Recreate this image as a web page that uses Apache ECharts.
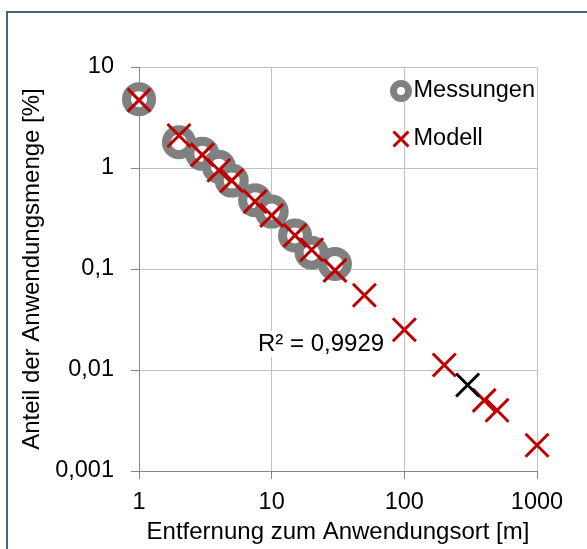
<!DOCTYPE html>
<html>
<head>
<meta charset="utf-8">
<script src="https://cdn.jsdelivr.net/npm/echarts@6/dist/echarts.min.js"></script>
<style>
html,body{margin:0;padding:0;background:#fff;}
#c{width:587px;height:549px;}
</style>
</head>
<body>
<div id="c"></div>
<script>
// ---- data ----
const messX = [1, 2, 3, 4, 5, 7.5, 10, 15, 20, 30];
const messY = [4.8, 1.8, 1.38, 1.03, 0.75, 0.48, 0.37, 0.215, 0.145, 0.112];
const modX = [1, 2, 3, 4, 5, 7.5, 10, 15, 20, 30, 50, 100, 200, 400, 500, 1000];
const modY = [4.7, 2.1, 1.35, 0.95, 0.75, 0.465, 0.34, 0.215, 0.155, 0.097, 0.055, 0.025, 0.0112, 0.005, 0.004, 0.0018];
const selX = [300];
const selY = [0.0071];
const xTicks = [1, 10, 100, 1000];
const xTickLabels = ['1', '10', '100', '1000'];
const yTicks = [0.001, 0.01, 0.1, 1, 10];
const yTickLabels = ['0,001', '0,01', '0,1', '1', '10'];
const seriesNames = ['Messungen', 'Modell'];
const xTitle = 'Entfernung zum Anwendungsort [m]';
const yTitle = 'Anteil der Anwendungsmenge [%]';
const r2Label = 'R² = 0,9929';

const FONT = 'Liberation Sans, Arial, sans-serif';
const FS = 23.5;
const FT = 24;
const pairs = (xs, ys) => xs.map((x, i) => [x, ys[i]]);
const labelFor = (ticks, labels) => v => {
  let best = 0, bd = Infinity;
  ticks.forEach((t, i) => { const d = Math.abs(Math.log10(t) - Math.log10(v)); if (d < bd) { bd = d; best = i; } });
  return bd < 0.01 ? labels[best] : '';
};
const XPATH = 'path://M0,0L20,20M20,0L0,20';

const chart = echarts.init(document.getElementById('c'), null, {renderer: 'canvas'});
const axisCommon = {
  type: 'log', logBase: 10,
  nameLocation: 'middle',
  nameTextStyle: {fontSize: FT, color: '#000', fontFamily: FONT},
  axisLine: {show: true, onZero: false, lineStyle: {color: '#868686', width: 1}},
  axisTick: {show: true, inside: false, length: 8, lineStyle: {color: '#868686', width: 1}},
  minorTick: {show: false},
  minorSplitLine: {show: false},
  splitLine: {show: true, lineStyle: {color: '#c0c0c0', width: 1}},
};
chart.setOption({
  animation: false,
  backgroundColor: '#fff',
  grid: {left: 139, right: 50, top: 67, bottom: 78, containLabel: false, outerBoundsMode: 'none'},
  xAxis: Object.assign({}, axisCommon, {
    min: xTicks[0], max: xTicks[xTicks.length - 1],
    name: xTitle, nameGap: 48,
    axisLabel: {margin: 20, fontSize: FS, color: '#000', fontFamily: FONT, formatter: labelFor(xTicks, xTickLabels)}
  }),
  yAxis: Object.assign({}, axisCommon, {
    min: yTicks[0], max: yTicks[yTicks.length - 1],
    name: yTitle, nameGap: 84, nameRotate: 90,
    axisLabel: {margin: 25, fontSize: FS, color: '#000', fontFamily: FONT, formatter: labelFor(yTicks, yTickLabels)}
  }),
  legend: {
    orient: 'vertical', left: 390, top: 79, padding: 0,
    itemWidth: 15, itemHeight: 15, itemGap: 24, selectedMode: false,
    textStyle: {fontSize: FS, color: '#000', fontFamily: FONT},
    data: [
      {name: seriesNames[0], itemStyle: {borderWidth: 7, borderColor: '#808080', color: '#fff'}},
      {name: seriesNames[1], itemStyle: {borderWidth: 3, borderColor: '#c00000', color: 'rgba(0,0,0,0)'}}
    ]
  },
  graphic: [
    {type: 'rect', z: 100, silent: true, shape: {x: 7, y: 12, width: 700, height: 700},
     style: {fill: 'none', stroke: '#44677e', lineWidth: 2}},
    {type: 'text', z: 100, x: 257, y: 344, silent: true,
     style: {text: r2Label, font: FT + 'px ' + FONT, fill: '#000', verticalAlign: 'middle', align: 'left',
             backgroundColor: '#fff', padding: [1, 1]}}
  ],
  series: [
    {name: seriesNames[0], type: 'scatter', z: 2, data: pairs(messX, messY),
     symbol: 'circle', symbolSize: 25,
     itemStyle: {color: '#fff', borderColor: '#808080', borderWidth: 9, opacity: 1}},
    {name: seriesNames[1], type: 'scatter', z: 3, data: pairs(modX, modY),
     symbol: XPATH, symbolSize: 23,
     itemStyle: {color: 'rgba(0,0,0,0)', borderColor: '#c00000', borderWidth: 3, opacity: 1}},
    {name: 'Auswahl', type: 'scatter', z: 4, data: pairs(selX, selY),
     symbol: XPATH, symbolSize: 23,
     itemStyle: {color: 'rgba(0,0,0,0)', borderColor: '#000000', borderWidth: 3, opacity: 1}}
  ]
});
</script>
</body>
</html>
